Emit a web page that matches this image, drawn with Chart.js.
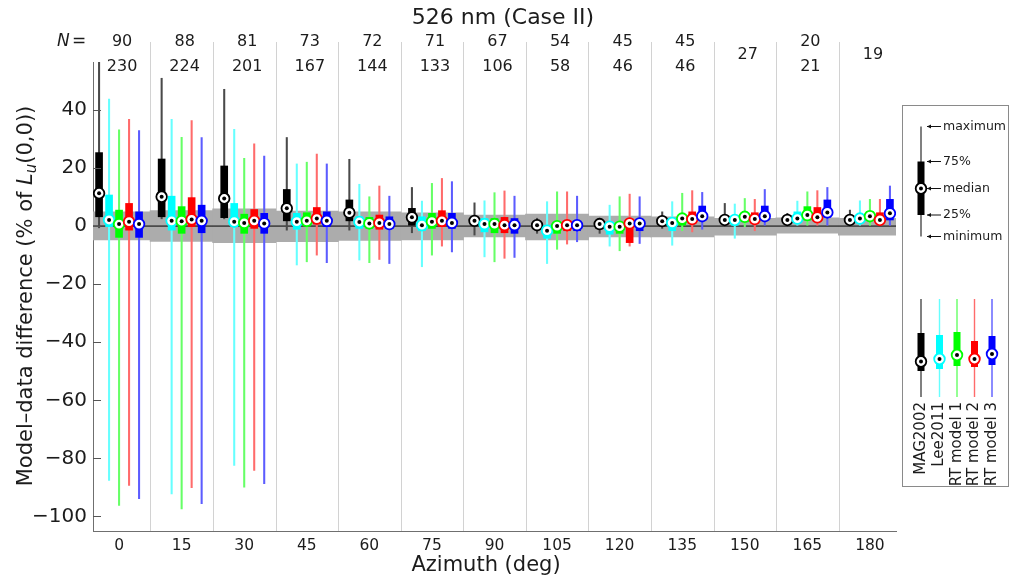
<!DOCTYPE html>
<html><head><meta charset="utf-8">
<script src="https://cdn.jsdelivr.net/npm/chart.js@4.4.1/dist/chart.umd.min.js"></script>
<style>html,body{margin:0;padding:0;background:#fff;}#wrap{width:1011px;height:581px;position:relative;}</style>
</head><body><div id="wrap"><canvas id="c" width="1011" height="581"></canvas></div>
<script>
// ---------- data ----------
const azimuths = [0, 15, 30, 45, 60, 75, 90, 105, 120, 135, 150, 165, 180];
const nTop    = [90, 88, 81, 73, 72, 71, 67, 54, 45, 45, 27, 20, 19];
const nBottom = [230, 224, 201, 167, 144, 133, 106, 58, 46, 46, null, 21, null];
const yTickValues = [-100, -80, -60, -40, -20, 0, 20, 40];
const seriesNames = ['MAG2002', 'Lee2011', 'RT model 1', 'RT model 2', 'RT model 3'];

const bandHigh = [4.9, 5.3, 5.9, 5.2, 4.9, 4.6, 3.8, 4.1, 3.4, 3.2, 2.7, 2.8, 2.7];
const bandLow  = [-4.8, -5.3, -5.7, -5.4, -4.9, -4.8, -3.7, -4.8, -3.7, -3.7, -3.1, -2.4, -3.1];

const magMin = [-0.6, 2.5, 2.5, -1.4, -1.4, -2.3, -3.1, -2.5, -2.5, -0.8, 0.3, 0.3, 0.3];
const magQ1  = [3.2, 3.2, 2.9, 1.8, 1.8, 0.3, 0.5, -1.0, -0.8, 0.8, 1.2, 1.2, 1.2];
const magMed = [11.3, 10.1, 9.5, 6.1, 4.6, 3.0, 1.8, 0.3, 0.7, 1.7, 2.1, 2.1, 2.1];
const magQ3  = [25.3, 23.1, 20.7, 12.6, 9.0, 6.1, 3.0, 1.5, 2.0, 2.6, 3.0, 3.0, 3.0];
const magMax = [60, 50.9, 47.1, 30.5, 23.0, 13.3, 8.0, 2.7, 2.7, 4.9, 7.8, 4.4, 5.5];

const leeMin = [-87.6, -92.2, -82.4, -13.4, -11.7, -14.0, -10.6, -12.9, -6.9, -6.6, -4.2, 0.3, 0.3];
const leeQ1  = [-0.2, -1.4, -0.2, -1.1, -0.8, -1.6, -2.0, -4.2, -2.8, -1.6, 0.3, 1.5, 1.2];
const leeMed = [2.1, 1.8, 1.5, 1.5, 1.4, 0.3, 0.7, -1.6, -0.2, 1.1, 2.1, 2.6, 2.6];
const leeQ3  = [10.7, 10.3, 7.8, 4.4, 3.2, 3.2, 2.6, 0.3, 0.3, 2.1, 2.6, 4.9, 4.0];
const leeMax = [43.7, 36.8, 33.3, 21.4, 14.4, 8.6, 8.7, 8.4, 7.2, 8.4, 7.6, 8.6, 8.7];

const rt1Min = [-96.2, -97.4, -89.9, -12.3, -12.6, -10.0, -12.3, -8.0, -8.5, -1.6, -0.2, 0.3, 0.3];
const rt1Q1  = [-3.9, -2.5, -2.5, 0.0, -0.8, -0.8, -2.3, -2.5, -2.5, 0.3, 1.5, 2.1, 2.0];
const rt1Med = [0.7, 1.7, 1.1, 1.8, 0.9, 1.5, 0.7, 0.0, -0.2, 2.6, 3.2, 3.8, 3.4];
const rt1Q3  = [5.5, 6.7, 4.1, 4.6, 3.0, 4.4, 2.6, 1.1, 0.9, 3.8, 4.4, 6.7, 5.0];
const rt1Max = [33.1, 30.6, 23.3, 22.0, 10.1, 14.7, 11.5, 11.8, 10.1, 11.3, 9.5, 11.8, 9.2];

const rt2Min = [-89.3, -90.1, -84.1, -10.0, -11.5, -6.9, -11.1, -6.2, -6.9, -2.0, -1.6, 0.3, 0.3];
const rt2Q1  = [-1.4, -0.2, -0.8, 0.7, -1.1, -0.2, -2.3, -1.6, -5.7, 0.9, 0.9, 2.1, 1.0];
const rt2Med = [1.5, 2.3, 1.8, 2.6, 1.1, 1.8, 0.3, 0.3, 0.9, 2.4, 2.4, 3.0, 2.1];
const rt2Q3  = [7.8, 9.8, 5.7, 6.4, 3.8, 5.3, 3.0, 1.5, 2.1, 4.9, 4.6, 6.4, 4.6];
const rt2Max = [36.8, 36.3, 28.3, 24.8, 13.8, 16.4, 12.1, 11.8, 11.0, 12.2, 9.2, 12.2, 9.2];

const rt3Min = [-93.9, -95.6, -88.7, -12.6, -12.9, -8.9, -10.8, -5.4, -6.0, -1.1, 0.3, 0.3, 0.3];
const rt3Q1  = [-3.9, -2.3, -2.5, -0.2, -0.8, -0.8, -2.5, -1.6, -1.6, 2.1, 2.1, 3.0, 2.1];
const rt3Med = [0.7, 1.8, 0.9, 1.8, 0.7, 1.1, 0.3, 0.3, 0.9, 3.4, 3.4, 4.7, 4.4];
const rt3Q3  = [4.9, 7.2, 4.4, 4.9, 3.2, 4.4, 2.6, 1.5, 2.3, 6.9, 6.9, 9.0, 9.2];
const rt3Max = [32.9, 30.5, 24.1, 21.4, 10.3, 15.3, 10.3, 10.3, 10.1, 11.6, 12.6, 13.3, 13.8];

// ---------- styles / layout ----------
const FONT = '"DejaVu Sans", "Liberation Sans", sans-serif';
const TEXT = '#1c1c1c';
const boxColors = ['#000000', '#00ffff', '#00ff00', '#ff0000', '#0000ff'];
const whiskerColors = ['#4a4a4a', '#66ffff', '#66ff66', '#ff6b6b', '#5c5cff'];
const X_MIN = -6.25, X_MAX = 186.25, Y_MIN = -105, Y_MAX = 56.5;
const PLOT = {left: 93, right: 896, top: 62, bottom: 531};
const W = 1011, H = 581;
const pxPerDeg = (PLOT.right - PLOT.left) / (X_MAX - X_MIN);
const slotDeg = 10 / pxPerDeg;

const series = [
  {min: magMin, q1: magQ1, med: magMed, q3: magQ3, max: magMax},
  {min: leeMin, q1: leeQ1, med: leeMed, q3: leeQ3, max: leeMax},
  {min: rt1Min, q1: rt1Q1, med: rt1Med, q3: rt1Q3, max: rt1Max},
  {min: rt2Min, q1: rt2Q1, med: rt2Med, q3: rt2Q3, max: rt2Max},
  {min: rt3Min, q1: rt3Q1, med: rt3Med, q3: rt3Q3, max: rt3Max}
];

const datasets = [];
datasets.push({
  type: 'bar', label: 'band', grouped: false, clip: 0, order: 100,
  data: azimuths.map((a, i) => ({x: a, y: [bandLow[i], bandHigh[i]]})),
  backgroundColor: '#acacac', borderWidth: 0, barThickness: 15 * pxPerDeg + 0.6
});
datasets.push({
  type: 'line', label: 'zero', order: 90, clip: 0,
  data: [{x: X_MIN, y: 0}, {x: X_MAX, y: 0}],
  borderColor: '#000', borderWidth: 1, pointRadius: 0
});
series.forEach((s, k) => {
  const off = (k - 2) * slotDeg;
  const base = 60 - k * 5;
  datasets.push({
    type: 'bar', label: seriesNames[k] + ' range', grouped: false, clip: 0, order: base,
    data: azimuths.map((a, i) => ({x: a + off, y: [s.min[i], s.max[i]]})),
    backgroundColor: whiskerColors[k], borderWidth: 0, barThickness: 1.4
  });
  datasets.push({
    type: 'bar', label: seriesNames[k] + ' IQR', grouped: false, clip: 0, order: base - 1,
    data: azimuths.map((a, i) => ({x: a + off, y: [s.q1[i], s.q3[i]]})),
    backgroundColor: boxColors[k], borderWidth: 0, barThickness: 7
  });
  datasets.push({
    type: 'scatter', label: seriesNames[k] + ' median', order: base - 2,
    data: azimuths.map((a, i) => ({x: a + off, y: s.med[i]})),
    pointRadius: 5.3, pointBorderWidth: 1.8, pointBackgroundColor: '#ffffff',
    pointBorderColor: boxColors[k], pointStyle: 'circle'
  });
  datasets.push({
    type: 'scatter', label: seriesNames[k] + ' dot', order: base - 3,
    data: azimuths.map((a, i) => ({x: a + off, y: s.med[i]})),
    pointRadius: 2, pointBorderWidth: 0, pointBackgroundColor: '#000000'
  });
});

// ---------- helpers for decoration ----------
function drawMiniBox(ctx, x, yMax, yQ3, yMed, yQ1, yMin, col, wcol) {
  ctx.fillStyle = wcol;
  ctx.fillRect(x - 0.7, yMax, 1.4, yMin - yMax);
  ctx.fillStyle = col;
  ctx.fillRect(x - 3.5, yQ3, 7, yQ1 - yQ3);
  ctx.beginPath(); ctx.arc(x, yMed, 5.3, 0, Math.PI * 2);
  ctx.fillStyle = '#fff'; ctx.fill();
  ctx.lineWidth = 1.8; ctx.strokeStyle = col; ctx.stroke();
  ctx.beginPath(); ctx.arc(x, yMed, 2, 0, Math.PI * 2);
  ctx.fillStyle = '#000'; ctx.fill();
}
function arrow(ctx, x0, x1, y) {
  ctx.strokeStyle = '#111'; ctx.lineWidth = 1;
  ctx.beginPath(); ctx.moveTo(x0, y); ctx.lineTo(x1, y); ctx.stroke();
  ctx.beginPath(); ctx.moveTo(x0, y); ctx.lineTo(x0 + 4, y - 2); ctx.lineTo(x0 + 4, y + 2); ctx.closePath();
  ctx.fillStyle = '#111'; ctx.fill();
}

const decor = {
  id: 'decor',
  beforeDatasetsDraw(chart) {
    const ctx = chart.ctx, xs = chart.scales.x, area = chart.chartArea;
    ctx.save();
    ctx.strokeStyle = '#d2d2d2'; ctx.lineWidth = 1;
    for (let i = 1; i < azimuths.length; i++) {
      const x = Math.round(xs.getPixelForValue((azimuths[i] + azimuths[i - 1]) / 2)) + 0.5;
      ctx.beginPath(); ctx.moveTo(x, 42); ctx.lineTo(x, area.bottom); ctx.stroke();
    }
    ctx.restore();
  },
  afterDatasetsDraw(chart) {
    const ctx = chart.ctx, ys = chart.scales.y, area = chart.chartArea;
    ctx.save();
    ctx.strokeStyle = '#555'; ctx.lineWidth = 1;
    ys.ticks.forEach(t => {
      const y = Math.round(ys.getPixelForValue(t.value)) + 0.5;
      ctx.beginPath(); ctx.moveTo(area.left, y); ctx.lineTo(area.left + 8, y); ctx.stroke();
    });
    ctx.restore();
  },
  afterDraw(chart) {
    const ctx = chart.ctx, xs = chart.scales.x;
    ctx.save();
    ctx.fillStyle = TEXT;
    // title
    ctx.font = '22px ' + FONT; ctx.textAlign = 'center'; ctx.textBaseline = 'middle';
    ctx.fillText('526 nm (Case II)', 503, 18);
    // N labels
    ctx.font = '16px ' + FONT;
    azimuths.forEach((a, i) => {
      const x = xs.getPixelForValue(a) + 3;
      if (nBottom[i] === null) {
        ctx.fillText(String(nTop[i]), x, 55);
      } else {
        ctx.fillText(String(nTop[i]), x, 42);
        ctx.fillText(String(nBottom[i]), x, 67);
      }
    });
    ctx.textAlign = 'left';
    ctx.font = 'italic 17px ' + FONT; ctx.fillText('N', 57, 42);
    ctx.font = '17px ' + FONT; ctx.fillText('=', 72, 42);
    // x axis title
    ctx.font = '21px ' + FONT; ctx.textAlign = 'center';
    ctx.fillText('Azimuth (deg)', 486, 566);
    // y axis title with italic L and subscript u
    const f = 21;
    const parts = [
      {t: 'Model\u2013data difference (% of ', font: f + 'px ' + FONT, dy: 0},
      {t: 'L', font: 'italic ' + f + 'px ' + FONT, dy: 0},
      {t: 'u', font: 'italic ' + Math.round(f * 0.72) + 'px ' + FONT, dy: 5},
      {t: '(0,0))', font: f + 'px ' + FONT, dy: 0}
    ];
    let total = 0;
    parts.forEach(p => { ctx.font = p.font; p.w = ctx.measureText(p.t).width; total += p.w; });
    ctx.translate(27, 296); ctx.rotate(-Math.PI / 2);
    ctx.textAlign = 'left'; ctx.textBaseline = 'middle';
    let cx = -total / 2;
    parts.forEach(p => { ctx.font = p.font; ctx.fillText(p.t, cx, p.dy); cx += p.w; });
    ctx.setTransform(1, 0, 0, 1, 0, 0);
    // legend panel
    ctx.strokeStyle = '#8a8a8a'; ctx.lineWidth = 1;
    ctx.strokeRect(902.5, 105.5, 106, 381);
    drawMiniBox(ctx, 921, 126.5, 161.5, 188.5, 215, 236.5, '#000', '#4a4a4a');
    const lbl = [['maximum', 126.5], ['75%', 161.5], ['median', 188.5], ['25%', 215], ['minimum', 236.5]];
    ctx.font = '12.5px ' + FONT; ctx.textAlign = 'left'; ctx.textBaseline = 'middle';
    lbl.forEach(([t, y]) => {
      arrow(ctx, 927, 941, y);
      ctx.fillStyle = TEXT; ctx.fillText(t, 943, y);
    });
    const lx = [921, 939.5, 957, 974.5, 992];
    const lq3 = [333, 335, 332, 341, 336], lq1 = [371, 369, 366, 367, 365], lmed = [361.5, 359, 355, 359, 354];
    lx.forEach((x, k) => drawMiniBox(ctx, x, 299, lq3[k], lmed[k], lq1[k], 397, boxColors[k], whiskerColors[k]));
    ctx.font = '15px ' + FONT; ctx.fillStyle = TEXT;
    lx.forEach((x, k) => {
      ctx.save(); ctx.translate(x, 402); ctx.rotate(-Math.PI / 2);
      ctx.textAlign = 'right'; ctx.textBaseline = 'middle';
      ctx.fillText(seriesNames[k], 0, 0);
      ctx.restore();
    });
    ctx.restore();
  }
};

new Chart(document.getElementById('c'), {
  type: 'bar',
  data: {datasets},
  options: {
    responsive: false, animation: false, devicePixelRatio: 1,
    layout: {padding: {top: PLOT.top, right: W - PLOT.right, left: 0, bottom: 0}},
    plugins: {legend: {display: false}, title: {display: false}, tooltip: {enabled: false}},
    events: [],
    scales: {
      x: {
        type: 'linear', min: X_MIN, max: X_MAX, offset: false,
        afterBuildTicks: s => { s.ticks = azimuths.map(v => ({value: v})); },
        afterFit: s => { s.height = H - PLOT.bottom; },
        grid: {display: false, drawTicks: false},
        border: {display: true, color: '#6f6f6f', width: 1},
        ticks: {font: {family: FONT, size: 15.5}, color: TEXT, padding: 6, maxRotation: 0, autoSkip: false}
      },
      y: {
        type: 'linear', min: Y_MIN, max: Y_MAX,
        afterBuildTicks: s => { s.ticks = yTickValues.map(v => ({value: v})); },
        afterFit: s => { s.width = PLOT.left; },
        grid: {display: false, drawTicks: false},
        border: {display: true, color: '#6f6f6f', width: 1},
        ticks: {font: {family: FONT, size: 20}, color: TEXT, padding: 6,
                callback: v => (v < 0 ? '\u2212' + Math.abs(v) : String(v))}
      }
    }
  },
  plugins: [decor]
});
</script></body></html>
